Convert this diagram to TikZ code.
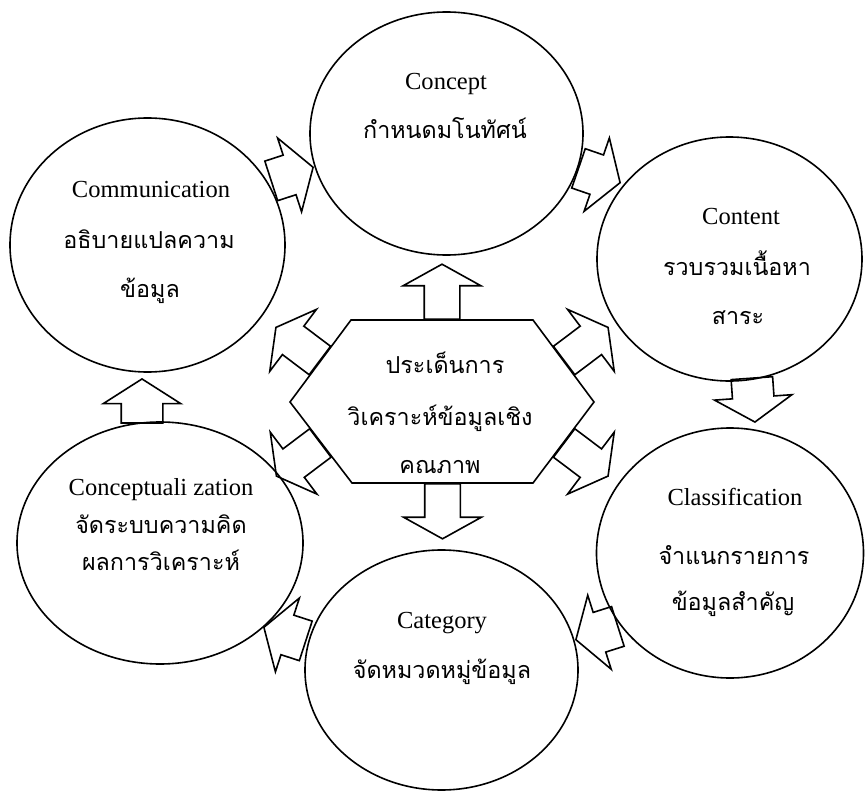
\documentclass[tikz,border=0pt]{standalone}
\usepackage{fontspec}
\setmainfont{Liberation Serif}
\newfontfamily\thai[Script=Thai]{Loma}
\usetikzlibrary{shapes.geometric,shapes.arrows,calc}
\tikzstyle{bubble} = [ellipse,draw,line width=1.2pt,inner sep=0pt]
\tikzstyle{en} = [anchor=base,inner sep=0pt,font=\fontsize{18.4}{22}\selectfont]
\tikzstyle{th} = [anchor=base,inner sep=0pt,font=\thai\fontsize{17.5}{22}\selectfont]
\tikzstyle{hexarrow} = [single arrow,draw,line width=1.2pt,inner xsep=0pt,inner ysep=12.75pt,anchor=tail,
	minimum height=41.25pt,single arrow head extend=15.75pt,single arrow tip angle=122]
\tikzstyle{looparrow} = [single arrow,draw,line width=1.2pt,inner xsep=0pt,inner ysep=15pt,anchor=tip,
	minimum height=33pt,single arrow head extend=13.5pt,single arrow tip angle=115]

\begin{document}
\begin{tikzpicture}[x=0.75pt,y=-0.75pt]
	\useasboundingbox (0,0) rectangle (865,792);
	% the six steps
	\node[bubble,minimum width=204.75pt,minimum height=182.25pt] (concept) at (446.5,133.5) {};
	\node[bubble,minimum width=198.75pt,minimum height=183pt] (content) at (729.5,259) {};
	\node[bubble,minimum width=200.25pt,minimum height=187.5pt] (classif) at (730,553) {};
	\node[bubble,minimum width=204.75pt,minimum height=180pt] (category) at (441.5,670) {};
	\node[bubble,minimum width=214.5pt,minimum height=181.5pt] (conceptual) at (160,543) {};
	\node[bubble,minimum width=206.25pt,minimum height=190.5pt] (comm) at (147.5,245) {};

	\node[en] (conceptEn) at (446,90) {Concept};
	\node[th] (conceptTh) at (445,138) {กำหนดมโนทัศน์};
	\node[en] (contentEn) at (741,224) {Content};
	\node[th] (contentTh) at (737,275) {รวบรวมเนื้อหา};
	\node[th] (contentTh2) at (738,324) {สาระ};
	\node[en] (classifEn) at (735,505) {Classification};
	\node[th] (classifTh) at (734,564) {จำแนกรายการ};
	\node[th] (classifTh2) at (733,610) {ข้อมูลสำคัญ};
	\node[en] (categoryEn) at (442,628) {Category};
	\node[th] (categoryTh) at (442,678) {จัดหมวดหมู่ข้อมูล};
	\node[en] (conceptualEn) at (161,495) {Conceptuali zation};
	\node[th] (conceptualTh) at (161,533) {จัดระบบความคิด};
	\node[th] (conceptualTh2) at (161,570) {ผลการวิเคราะห์};
	\node[en] (commEn) at (151,198) {Communication};
	\node[th] (commTh) at (149,248) {อธิบายแปลความ};
	\node[th] (commTh2) at (150,297) {ข้อมูล};

	% hexagon in the middle
	\coordinate (hexW) at (290,402);
	\coordinate (hexNW) at (351,320);
	\coordinate (hexNE) at (533,320);
	\coordinate (hexE) at (594,402);
	\coordinate (hexSE) at (533,483);
	\coordinate (hexSW) at (352,483);
	\draw[line width=1.2pt,line join=miter] (hexW) -- (hexNW) -- (hexNE) -- (hexE) -- (hexSE) -- (hexSW) -- cycle;
	\node[th] (hubTh) at (445,373) {ประเด็นการ};
	\node[th] (hubTh2) at (440,425) {วิเคราะห์ข้อมูลเชิง};
	\node[th] (hubTh3) at (440,473) {คณภาพ};

	\foreach \a/\b/\ang/\n in {hexNW/hexNE/90/up,hexSE/hexSW/-90/down,hexW/hexNW/143/ul,
		hexSW/hexW/-143/dl,hexNE/hexE/37/ur,hexE/hexSE/-37/dr} {
		\node[hexarrow,rotate=\ang] (hub-\n) at ($(\a)!0.5!(\b)$) {};
	}

	% the cycle
	\node[looparrow,rotate=18] (commToConcept) at (314,167) {};
	\node[looparrow,rotate=-19] (conceptToContent) at (621,183) {};
	\node[looparrow,rotate=-86] (contentToClassif) at (755,423) {};
	\node[looparrow,rotate=197.6] (classifToCategory) at (575,640) {};
	\node[looparrow,rotate=162] (categoryToConceptual) at (263,627) {};
	\node[looparrow,rotate=90] (conceptualToComm) at (142,378) {};
\end{tikzpicture}
\end{document}
